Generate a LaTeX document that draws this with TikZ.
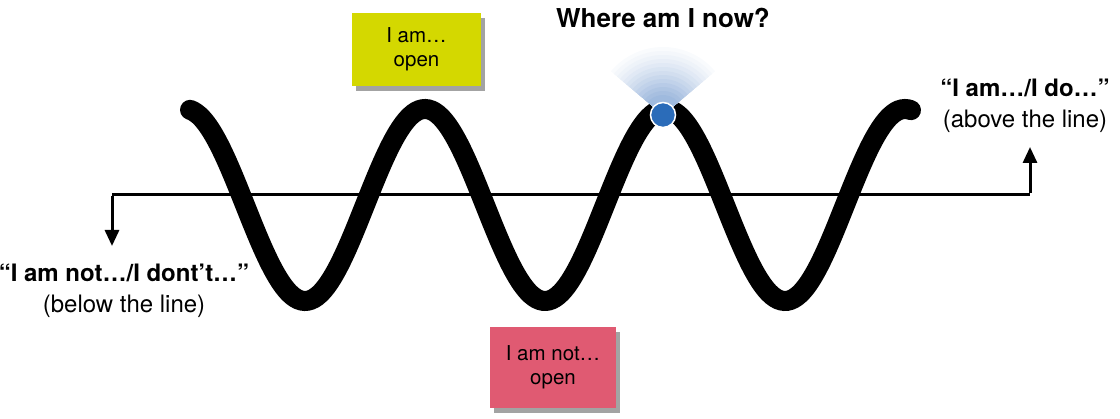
\documentclass[tikz,border=0pt]{standalone}
\usepackage{fontspec}
\setmainfont{TeX Gyre Heros}
\usetikzlibrary{arrows.meta,shadows}
\definecolor{stickyY}{RGB}{212,216,0}
\definecolor{stickyP}{RGB}{224,90,114}
\definecolor{dotblue}{RGB}{43,108,185}
\definecolor{fanblue}{RGB}{110,150,205}
\tikzset{
  sticky/.style={minimum width=129pt, minimum height=73pt, align=center, inner sep=0pt,
     font=\fontsize{20.5}{24}\selectfont,
     drop shadow={shadow xshift=4pt, shadow yshift=-5pt, opacity=0.45, fill=black!80}},
  heading/.style={font=\bfseries\fontsize{24}{28}\selectfont, inner sep=0pt},
  sub/.style={font=\fontsize{24}{28}\selectfont, inner sep=0pt},
  baseline/.style={line width=3pt},
  arr/.style={line width=3pt, -{Triangle[width=14pt,length=16pt]}}
}
\begin{document}
\begin{tikzpicture}[x=1pt,y=-1pt]
\useasboundingbox (0,0) rectangle (1120,419);
% base line
\coordinate (L) at (112,195);
\coordinate (R) at (1030,195);
\coordinate (Ld) at (112,246);
\coordinate (Ru) at (1030,147);
\draw[baseline] (L) -- (R);
\draw[arr] ([yshift=-1.5pt]L) -- (Ld);
\draw[arr] ([yshift=1.5pt]R) -- (Ru);
% wave
\draw[line width=20pt, line cap=round] plot[domain=190:911, samples=240, smooth]
  (\x, {205-96*cos(1.5*(\x-185))});
% fan
\coordinate (D) at (663,115);
\foreach \r/\c in {68/4,64/8,60/12,56/16,52/21,48/26,44/31,40/37,36/43,32/49,28/55,24/61,20/66} {
  \fill[fanblue!\c!white] (D) -- ++(-40:\r) arc[start angle=-40, end angle=-140, radius=\r] -- cycle;
}
\node[circle, fill=dotblue, draw=white, line width=1.5pt, minimum size=25pt, inner sep=0pt] (dot) at (D) {};
% sticky notes
\node[sticky, fill=stickyY] (yes) at (416.5,49.5) {I am…\\open};
\node[sticky, fill=stickyP, minimum width=126pt, minimum height=81pt] (no) at (553,367.5) {I am not…\\open};
% labels
\node[font=\bfseries\fontsize{26}{30}\selectfont, inner sep=0pt] (where) at (663,18) {Where am I now?};
\node[heading] (below) at (124,273) {“I am not…/I dont’t…”};
\node[sub] (belowsub) at (124,306) {(below the line)};
\node[heading] (above) at (1025,88) {“I am…/I do…”};
\node[sub] (abovesub) at (1025,121) {(above the line)};
\end{tikzpicture}
\end{document}
